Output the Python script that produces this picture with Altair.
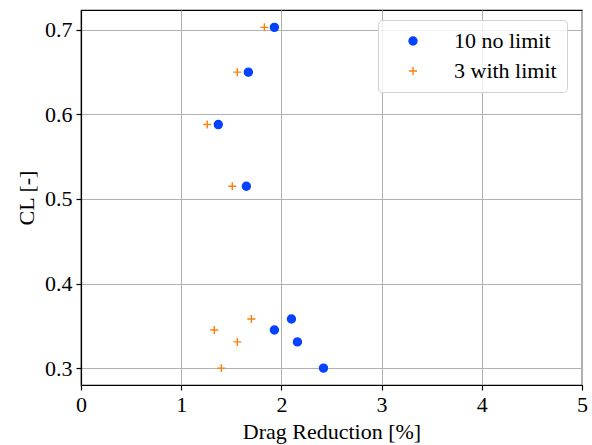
import altair as alt
import pandas as pd

series_names = ["10 no limit", "3 with limit"]
series_colors = ["#0343ff", "#ff7f0e"]

blue_dr = [1.93, 1.67, 1.37, 1.65, 2.10, 1.93, 2.16, 2.42]
blue_cl = [0.703, 0.650, 0.588, 0.515, 0.358, 0.345, 0.331, 0.300]
orange_dr = [1.83, 1.56, 1.26, 1.51, 1.70, 1.33, 1.56, 1.40]
orange_cl = [0.703, 0.650, 0.588, 0.515, 0.358, 0.345, 0.331, 0.300]

x_ticks = [0, 1, 2, 3, 4, 5]
y_ticks = [0.3, 0.4, 0.5, 0.6, 0.7]

df = pd.concat([
    pd.DataFrame({"dr": blue_dr, "cl": blue_cl, "series": series_names[0]}),
    pd.DataFrame({"dr": orange_dr, "cl": orange_cl, "series": series_names[1]}),
])

FONT = "Liberation Serif"
plus_path = "M-1,0L1,0M0,-1L0,1"

leg = alt.Legend(title=None, orient="none", legendX=297, legendY=10)

chart = alt.Chart(df).mark_point(filled=True, size=64, strokeWidth=1.4, opacity=1).encode(
    x=alt.X("dr:Q", title="Drag Reduction [%]",
            scale=alt.Scale(domain=[0, 5], nice=False, zero=False),
            axis=alt.Axis(values=x_ticks, format="d")),
    y=alt.Y("cl:Q", title="CL [-]",
            scale=alt.Scale(domain=[0.28, 0.7235], nice=False, zero=False),
            axis=alt.Axis(values=y_ticks, format=".1f")),
    fill=alt.Fill("series:N", scale=alt.Scale(domain=series_names, range=series_colors), legend=leg),
    stroke=alt.Stroke("series:N", scale=alt.Scale(domain=series_names, range=series_colors), legend=leg),
    shape=alt.Shape("series:N", scale=alt.Scale(domain=series_names, range=["circle", plus_path]), legend=leg),
).properties(
    width=501, height=375,
    autosize=alt.AutoSizeParams(type="none"),
    padding={"left": 81, "top": 10, "right": 10, "bottom": 60},
).configure_view(
    stroke="black", strokeWidth=1.2
).configure_axis(
    labelFont=FONT, titleFont=FONT, labelFontSize=22, titleFontSize=22,
    labelColor="black", titleColor="black", titleFontWeight="normal",
    domainColor="black", domainWidth=1.2, tickColor="black", tickSize=5, tickWidth=1.2,
    gridColor="#b0b0b0", gridWidth=1, labelPadding=4,
).configure_axisX(
    titlePadding=6, labelFlush=False
).configure_axisY(
    titlePadding=6, labelFlush=False
).configure_legend(
    labelFont=FONT, labelFontSize=22, labelColor="black",
    padding=10, symbolOffset=14, labelOffset=30, rowPadding=8,
    strokeColor="#d0d0d0", fillColor="rgba(255,255,255,0.8)", cornerRadius=4,
    symbolSize=64, symbolStrokeWidth=1.4,
)

chart.save("out.html", embed_options={"renderer": "svg", "actions": False})
